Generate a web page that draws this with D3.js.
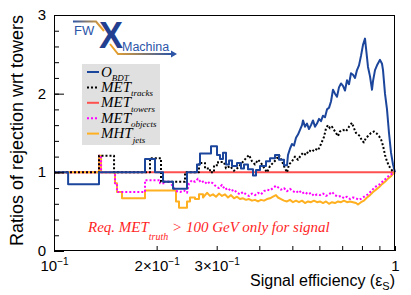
<!DOCTYPE html>
<html lang="en">
<head>
<meta charset="utf-8">
<title>Ratios of rejection</title>
<script src="https://cdn.jsdelivr.net/npm/d3@7"></script>
<style>
  body { margin: 0; background: #fff; }
  svg { display: block; }
</style>
</head>
<body>
<svg id="chart" width="411" height="295"></svg>
<script>
// [signal efficiency, rejection ratio wrt towers]
var oBdt = [
  [0.100,1.00],[0.110,1.00],[0.110,0.85],[0.1355,0.85],[0.1355,1.00],[0.1849,1.00],[0.1849,1.17],[0.1978,1.17],
  [0.1978,1.00],[0.2088,1.00],[0.2088,0.88],[0.2234,0.88],[0.2234,0.79],[0.2455,0.79],[0.2455,1.00],[0.2626,1.00],
  [0.2626,1.10],[0.2680,1.10],[0.2680,1.24],[0.2887,1.24],[0.2887,1.33],[0.3006,1.33],[0.3006,1.22],[0.3068,1.22],
  [0.3068,1.17],[0.3130,1.17],[0.3130,1.25],[0.3195,1.25],[0.3195,1.10],[0.3260,1.10],[0.3260,1.15],[0.3327,1.15],
  [0.3327,1.08],[0.3441,1.08],[0.3441,1.12],[0.3535,1.12],[0.3535,1.05],[0.3607,1.05],[0.3607,1.10],[0.3706,1.10],
  [0.3706,1.04],[0.3833,1.04],[0.3833,0.96],[0.3912,0.96],[0.3912,1.03],[0.4019,1.03],[0.4019,1.08],[0.4185,1.08],
  [0.4185,1.14],[0.4300,1.14],[0.4300,1.18],[0.4447,1.18],[0.4447,1.22],[0.4569,1.22],[0.4569,1.16],[0.4726,1.16],
  [0.4726,1.09],[0.4823,1.09],[0.4855,1.22],[0.4921,1.30],[0.4988,1.36],[0.5056,1.34],[0.5125,1.44],[0.5194,1.48],
  [0.5265,1.54],[0.5337,1.60],[0.5373,1.66],[0.5446,1.58],[0.5520,1.62],[0.5595,1.55],[0.5671,1.60],[0.5748,1.66],
  [0.5826,1.58],[0.5905,1.62],[0.5986,1.68],[0.6067,1.65],[0.6150,1.72],[0.6233,1.70],[0.6318,1.80],[0.6404,1.82],
  [0.6491,1.90],[0.6579,2.05],[0.6669,2.00],[0.6759,1.96],[0.6851,2.08],[0.6944,2.13],[0.7039,2.10],[0.7135,2.04],
  [0.7232,2.17],[0.7330,2.12],[0.7429,2.26],[0.7531,2.24],[0.7633,2.20],[0.7737,2.30],[0.7842,2.36],[0.7948,2.48],
  [0.8057,2.62],[0.8166,2.70],[0.8222,2.58],[0.8333,2.34],[0.8447,2.22],[0.8562,2.05],[0.8620,2.16],[0.8737,2.30],
  [0.8856,2.36],[0.9037,2.43],[0.9160,2.38],[0.9222,2.30],[0.9347,2.00],[0.9474,1.80],[0.9603,1.50],[0.9734,1.25],
  [0.9866,1.10],[1.000,1.00]
];
var metTracks = [
  [0.100,1.00],[0.1355,1.00],[0.1355,1.21],[0.1500,1.21],[0.1500,1.00],[0.1912,1.00],[0.1912,1.18],[0.2060,1.18],
  [0.2060,0.88],[0.2422,0.88],[0.2422,1.00],[0.2662,1.00],[0.2662,1.12],[0.2772,1.12],[0.2772,1.05],[0.2867,1.05],
  [0.2867,1.00],[0.2946,1.00],[0.2946,1.09],[0.3027,1.09],[0.3027,1.13],[0.3152,1.13],[0.3195,1.05],[0.3282,1.08],
  [0.3372,1.02],[0.3464,1.06],[0.3559,1.12],[0.3656,1.18],[0.3731,1.22],[0.3808,1.14],[0.3885,1.10],[0.3965,1.16],
  [0.4046,1.12],[0.4129,1.06],[0.4213,1.00],[0.4300,1.08],[0.4388,1.12],[0.4477,1.16],[0.4569,1.22],[0.4663,1.14],
  [0.4758,1.05],[0.4823,1.00],[0.4888,1.10],[0.4988,1.14],[0.5090,1.20],[0.5194,1.16],[0.5265,1.20],[0.5373,1.25],
  [0.5483,1.22],[0.5595,1.28],[0.5709,1.26],[0.5826,1.30],[0.5945,1.28],[0.6067,1.36],[0.6191,1.45],[0.6276,1.56],
  [0.6361,1.60],[0.6447,1.56],[0.6535,1.58],[0.6624,1.54],[0.6714,1.50],[0.6805,1.46],[0.6898,1.52],[0.7039,1.54],
  [0.7183,1.52],[0.7330,1.58],[0.7480,1.63],[0.7582,1.56],[0.7685,1.50],[0.7789,1.48],[0.7895,1.46],[0.8002,1.40],
  [0.8111,1.38],[0.8222,1.44],[0.8333,1.46],[0.8504,1.50],[0.8678,1.52],[0.8856,1.49],[0.8976,1.46],[0.9098,1.42],
  [0.9222,1.34],[0.9347,1.22],[0.9474,1.14],[0.9603,1.08],[0.9734,1.04],[0.9866,1.01],[1.000,1.00]
];
var metTowers = [[0.100,1.00],[1.000,1.00]];
var metObjects = [
  [0.100,1.00],[0.1355,1.00],[0.1355,1.21],[0.1374,1.21],[0.1374,1.00],[0.1510,1.00],[0.1510,0.86],[0.1530,0.86],
  [0.1530,0.75],[0.1849,0.75],[0.1849,0.90],[0.2046,0.90],[0.2046,0.86],[0.2116,0.86],[0.2116,0.88],[0.2189,0.88],
  [0.2218,0.84],[0.2249,0.80],[0.2295,0.76],[0.2342,0.75],[0.2406,0.77],[0.2455,0.74],[0.2488,0.86],[0.2539,0.90],
  [0.2591,0.88],[0.2644,0.92],[0.2698,0.87],[0.2754,0.89],[0.2810,0.85],[0.2867,0.88],[0.2926,0.86],[0.2986,0.82],
  [0.3047,0.80],[0.3109,0.84],[0.3173,0.78],[0.3238,0.80],[0.3304,0.76],[0.3372,0.78],[0.3441,0.74],[0.3511,0.72],
  [0.3583,0.75],[0.3656,0.72],[0.3731,0.70],[0.3808,0.73],[0.3885,0.71],[0.3965,0.74],[0.4046,0.72],[0.4129,0.76],
  [0.4213,0.78],[0.4300,0.77],[0.4388,0.80],[0.4477,0.83],[0.4538,0.81],[0.4631,0.78],[0.4726,0.80],[0.4823,0.76],
  [0.4921,0.79],[0.5022,0.76],[0.5125,0.74],[0.5230,0.77],[0.5337,0.73],[0.5446,0.75],[0.5557,0.72],[0.5671,0.74],
  [0.5787,0.70],[0.5905,0.72],[0.6026,0.71],[0.6150,0.73],[0.6276,0.70],[0.6404,0.72],[0.6535,0.75],[0.6669,0.71],
  [0.6805,0.69],[0.6944,0.70],[0.7087,0.67],[0.7232,0.69],[0.7380,0.66],[0.7531,0.68],[0.7685,0.67],[0.7842,0.65],
  [0.8002,0.67],[0.8166,0.70],[0.8333,0.72],[0.8504,0.76],[0.8678,0.80],[0.8856,0.83],[0.9037,0.85],[0.9222,0.89],
  [0.9410,0.92],[0.9603,0.96],[0.9800,0.98],[1.000,1.00]
];
var mhtJets = [
  [0.100,1.00],[0.1355,1.00],[0.1355,1.21],[0.1374,1.21],[0.1374,1.00],[0.1510,1.00],[0.1510,0.86],[0.1530,0.86],
  [0.1530,0.75],[0.1583,0.75],[0.1583,0.67],[0.1849,0.67],[0.1849,0.77],[0.2279,0.77],[0.2279,0.63],[0.2326,0.63],
  [0.2326,0.55],[0.2455,0.55],[0.2455,0.63],[0.2505,0.63],[0.2505,0.68],[0.2591,0.68],[0.2591,0.66],[0.2662,0.66],
  [0.2662,0.72],[0.2735,0.72],[0.2735,0.68],[0.2810,0.74],[0.2867,0.70],[0.2926,0.72],[0.2986,0.69],[0.3047,0.73],
  [0.3109,0.70],[0.3173,0.72],[0.3238,0.68],[0.3304,0.71],[0.3372,0.67],[0.3441,0.69],[0.3511,0.66],[0.3583,0.67],
  [0.3656,0.65],[0.3731,0.66],[0.3808,0.64],[0.3885,0.65],[0.3965,0.63],[0.4046,0.65],[0.4129,0.64],[0.4213,0.66],
  [0.4300,0.67],[0.4388,0.69],[0.4477,0.71],[0.4538,0.68],[0.4631,0.66],[0.4726,0.64],[0.4823,0.63],[0.4921,0.65],
  [0.5022,0.62],[0.5125,0.64],[0.5230,0.62],[0.5337,0.64],[0.5446,0.61],[0.5557,0.63],[0.5671,0.62],[0.5787,0.64],
  [0.5905,0.62],[0.6026,0.63],[0.6150,0.61],[0.6276,0.63],[0.6404,0.60],[0.6535,0.62],[0.6669,0.61],[0.6805,0.63],
  [0.6944,0.62],[0.7087,0.64],[0.7232,0.62],[0.7380,0.63],[0.7531,0.62],[0.7685,0.61],[0.7789,0.59],[0.7948,0.62],
  [0.8111,0.64],[0.8277,0.68],[0.8447,0.71],[0.8620,0.75],[0.8796,0.78],[0.8976,0.81],[0.9160,0.85],[0.9347,0.88],
  [0.9538,0.92],[0.9734,0.95],[0.9866,0.98],[1.000,1.00]
];

var legendMain = ['O', 'MET', 'MET', 'MET', 'MHT'];
var legendSub = ['BDT', 'tracks', 'towers', 'objects', 'jets'];
var xTicks = [0.1, 0.2, 0.3, 0.4, 0.5, 0.6, 0.7, 0.8, 0.9, 1];
var xLabelBase = ['10', '2\u00d710', '3\u00d710', '', '', '', '', '', '', '1'];
var xLabelExp = ['\u22121', '\u22121', '\u22121', '', '', '', '', '', '', ''];
var yMajor = [0, 1, 2, 3];
var yMinor = d3.range(0, 3.01, 0.2);

var sans = 'Liberation Sans, Arial, Helvetica, sans-serif';
var serif = 'Liberation Serif, Times New Roman, serif';

var svg = d3.select('#chart');
var x = d3.scaleLog().domain([0.1, 1]).range([54, 395]);
var y = d3.scaleLinear().domain([0, 3]).range([251, 15]);

svg.append('defs').append('clipPath').attr('id', 'plotclip')
  .append('rect').attr('x', 54).attr('y', 14).attr('width', 342).attr('height', 238);

// series drawn bottom to top
var series = [
  {data: metTowers, color: '#ff5050', dash: null, leg: 2},
  {data: mhtJets, color: '#ffb020', dash: null, leg: 4},
  {data: metObjects, color: '#ff00ff', dash: '2,2', leg: 3},
  {data: metTracks, color: '#000000', dash: '2,2', leg: 1},
  {data: oBdt, color: '#1c469c', dash: null, leg: 0}
];

var line = d3.line().x(function(d) { return x(d[0]); }).y(function(d) { return y(d[1]); });

var gLines = svg.append('g').attr('clip-path', 'url(#plotclip)');
series.forEach(function(s) {
  gLines.append('path')
    .attr('d', line(s.data))
    .attr('fill', 'none')
    .attr('stroke', s.color)
    .attr('stroke-width', 2)
    .attr('stroke-linejoin', 'round')
    .attr('stroke-dasharray', s.dash);
});

// axes
var yAxis = svg.append('g').attr('transform', 'translate(54,0)')
  .call(d3.axisLeft(y).tickValues(yMajor).tickSize(-10).tickPadding(8).tickFormat(d3.format('d')));
svg.append('g').attr('transform', 'translate(54,0)')
  .call(d3.axisLeft(y).tickValues(yMinor).tickSize(-5).tickFormat(''))
  .select('.domain').remove();
yAxis.select('.domain').remove();
yAxis.selectAll('text').attr('font-family', sans).attr('font-size', 15).attr('fill', '#000')
  .attr('dy', '0.3em');

var xAxis = svg.append('g').attr('transform', 'translate(0,251)')
  .call(d3.axisBottom(x).tickValues(xTicks).tickSize(-5).tickFormat(function() { return ''; }));
xAxis.select('.domain').remove();
xAxis.selectAll('.tick text').each(function(d, i) {
  var t = d3.select(this).attr('y', 20).attr('dy', 0)
    .attr('font-family', sans).attr('font-size', 15).attr('fill', '#000');
  t.text(null);
  t.append('tspan').text(xLabelBase[i]);
  if (xLabelExp[i]) {
    t.append('tspan').attr('font-size', 10).attr('dy', -6).text(xLabelExp[i]);
  }
});

// frame
svg.append('rect').attr('x', 54.5).attr('y', 15.5).attr('width', 340).attr('height', 235)
  .attr('fill', 'none').attr('stroke', '#000').attr('stroke-width', 1);

// axis titles
svg.append('text')
  .attr('transform', 'translate(23,15) rotate(-90)')
  .attr('text-anchor', 'end')
  .attr('font-family', sans).attr('font-size', 18)
  .text('Ratios of rejection wrt towers');

var xt = svg.append('text').attr('x', 395).attr('y', 286).attr('text-anchor', 'end')
  .attr('font-family', sans).attr('font-size', 16);
xt.append('tspan').text('Signal efficiency (\u03b5');
xt.append('tspan').attr('font-size', 11).attr('dy', 4).text('S');
xt.append('tspan').attr('dy', -4).text(')');

// legend
var leg = svg.append('g');
leg.append('rect').attr('x', 82).attr('y', 64).attr('width', 78).attr('height', 81).attr('fill', '#e0e0e0');
series.forEach(function(s) {
  var yy = 72 + s.leg * 15.4;
  leg.append('line').attr('x1', 87).attr('x2', 99).attr('y1', yy).attr('y2', yy)
    .attr('stroke', s.color).attr('stroke-width', 2).attr('stroke-dasharray', s.dash);
  var t = leg.append('text').attr('x', 101).attr('y', yy + 4.5)
    .attr('font-family', serif).attr('font-style', 'italic').attr('font-size', 15);
  t.append('tspan').text(legendMain[s.leg]);
  t.append('tspan').attr('font-size', 9).attr('dy', 4.5).text(legendSub[s.leg]);
});

// note
var note = svg.append('text').attr('x', 88).attr('y', 232)
  .attr('font-family', serif).attr('font-style', 'italic').attr('font-size', 15).attr('fill', '#ff1f1f');
note.append('tspan').text('Req. MET');
note.append('tspan').attr('font-size', 10).attr('dy', 8).text('truth');
note.append('tspan').attr('dy', -8).text(' > 100 GeV only for signal');

// logo
var defs = svg.select('defs');
var g1 = defs.append('linearGradient').attr('id', 'gTop');
g1.append('stop').attr('offset', '0%').attr('stop-color', '#2c55a8');
g1.append('stop').attr('offset', '100%').attr('stop-color', '#f5a623');
var g2 = defs.append('linearGradient').attr('id', 'gBot');
g2.append('stop').attr('offset', '0%').attr('stop-color', '#f5a623');
g2.append('stop').attr('offset', '100%').attr('stop-color', '#2c55a8');

var logo = svg.append('g');
logo.append('path').attr('d', 'M73,21.5 H96 L104,31').attr('fill', 'none')
  .attr('stroke', 'url(#gTop)').attr('stroke-width', 2);
logo.append('path').attr('d', 'M110,44 L118,54 H172').attr('fill', 'none')
  .attr('stroke', 'url(#gBot)').attr('stroke-width', 2);
logo.append('path').attr('d', 'M171,50.5 L177,54 L171,57.5 Z').attr('fill', '#2c55a8');
logo.append('text').attr('x', 74).attr('y', 35).attr('font-family', sans).attr('font-size', 13)
  .attr('fill', '#2c55a8').text('FW');
logo.append('text').attr('x', 111).attr('y', 48).attr('text-anchor', 'middle')
  .attr('font-family', sans).attr('font-weight', 'bold').attr('font-size', 36)
  .attr('fill', '#233f8f').text('X');
logo.append('text').attr('x', 122).attr('y', 51).attr('font-family', sans).attr('font-size', 12.5)
  .attr('fill', '#2c55a8').text('Machina');
</script>
</body>
</html>
